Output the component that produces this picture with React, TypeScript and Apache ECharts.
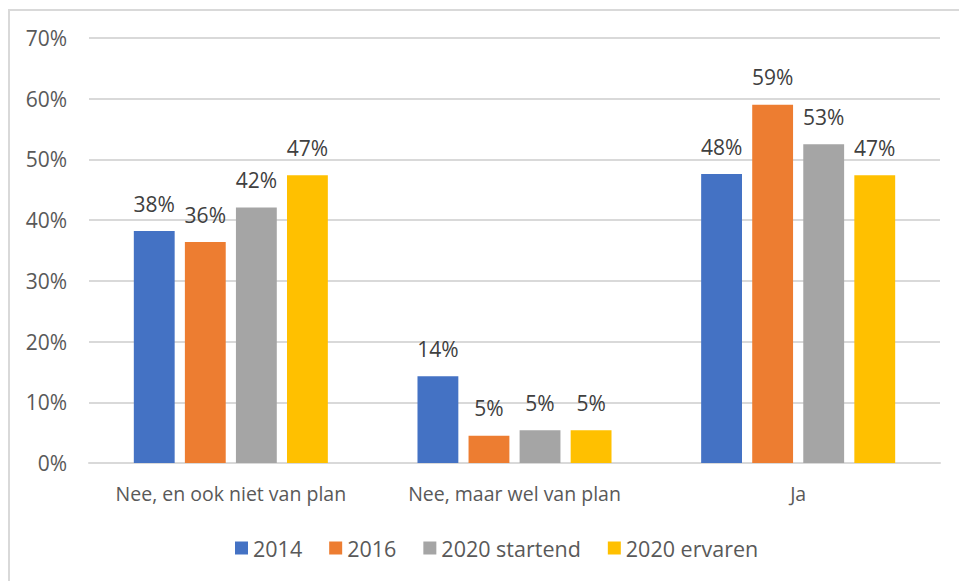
import React, { useEffect, useRef } from "react";
import * as echarts from "echarts";

const categories = ["Nee, en ook niet van plan", "Nee, maar wel van plan", "Ja"];
const seriesNames = ["2014", "2016", "2020 startend", "2020 ervaren"];
const values2014 = [38.2, 14.3, 47.6];
const values2016 = [36.4, 4.5, 59.0];
const values2020Startend = [42.1, 5.4, 52.5];
const values2020Ervaren = [47.4, 5.4, 47.4];
const yTicks = [0, 10, 20, 30, 40, 50, 60, 70];

const colors = ["#4472C4", "#ED7D31", "#A5A5A5", "#FFC000"];
const FONT = "Open Sans";

export default function App() {
  const ref = useRef<HTMLDivElement>(null);
  useEffect(() => {
    if (!ref.current) return;
    const chart = echarts.init(ref.current, null, { renderer: "svg" });
    const allValues = [values2014, values2016, values2020Startend, values2020Ervaren];
    chart.setOption({
      animation: false,
      backgroundColor: "#ffffff",
      textStyle: { fontFamily: FONT },
      graphic: [
        {
          type: "rect",
          shape: { x: 9, y: 10, width: 1000, height: 1000 },
          style: { fill: "none", stroke: "#d9d9d9", lineWidth: 2 },
          silent: true,
        },
      ],
      grid: { left: 89, right: 19, top: 38, bottom: 118, containLabel: false },
      legend: {
        data: seriesNames,
        left: 230,
        top: 532,
        icon: "rect",
        itemWidth: 13,
        itemHeight: 13,
        itemGap: 27,
        textStyle: { color: "#595959", fontSize: 21.5, fontFamily: FONT },
      },
      xAxis: {
        type: "category",
        data: categories,
        axisLine: { show: true, lineStyle: { color: "#d9d9d9", width: 2 } },
        axisTick: { show: false },
        axisLabel: { color: "#595959", fontSize: 19.5, margin: 20, interval: 0, fontFamily: FONT },
      },
      yAxis: {
        type: "value",
        min: yTicks[0],
        max: yTicks[yTicks.length - 1],
        interval: 10,
        axisLine: { show: false },
        axisTick: { show: false },
        splitLine: { lineStyle: { color: "#d9d9d9", width: 2 } },
        axisLabel: {
          color: "#595959",
          fontSize: 21,
          margin: 22,
          fontFamily: FONT,
          formatter: (v: number) => `${v}%`,
        },
      },
      series: seriesNames.map((name, i) => ({
        name,
        type: "bar",
        data: allValues[i],
        barGap: "25%",
        barCategoryGap: "31.6%",
        itemStyle: { color: colors[i] },
        label: {
          show: true,
          position: "top",
          distance: 17,
          color: "#404040",
          fontSize: 21,
          fontFamily: FONT,
          formatter: (p: any) => `${Math.round(p.value)}%`,
        },
      })),
    });
    return () => chart.dispose();
  }, []);
  return (
    <div
      ref={ref}
      style={{ position: "fixed", left: 0, top: 0, width: 959, height: 581 }}
    />
  );
}
